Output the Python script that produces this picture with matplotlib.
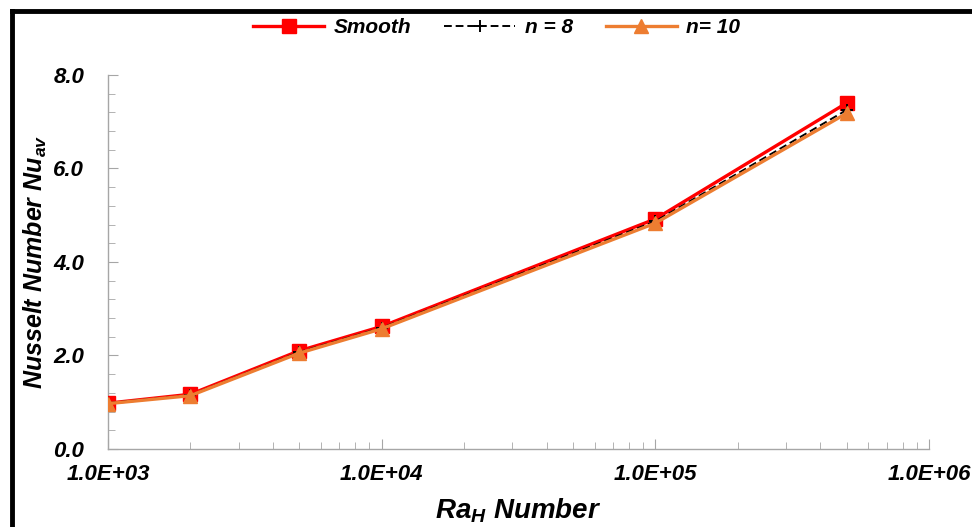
import matplotlib
matplotlib.use("Agg")
import matplotlib.pyplot as plt
import matplotlib.ticker as mtick
from matplotlib.lines import Line2D

plt.rcParams['font.family'] = ['Liberation Sans', 'DejaVu Sans']
plt.rcParams['mathtext.fontset'] = 'custom'
plt.rcParams['mathtext.it'] = 'Liberation Sans:italic:bold'
plt.rcParams['mathtext.rm'] = 'Liberation Sans:italic:bold'

ra = [1e3, 2e3, 5e3, 1e4, 1e5, 5e5]
nu_smooth = [0.98, 1.17, 2.10, 2.62, 4.92, 7.40]
nu_n8 = [0.98, 1.15, 2.07, 2.59, 4.87, 7.25]
nu_n10 = [0.97, 1.14, 2.05, 2.57, 4.83, 7.18]

fig = plt.figure(figsize=(9.72, 5.27), dpi=100)
ax = fig.add_axes([0.111, 0.148, 0.845, 0.71])

ax.plot(ra, nu_smooth, color='#FF0000', lw=2.4, marker='s', ms=10, label='Smooth', zorder=3)
ax.plot(ra, nu_n8, color='black', lw=1.4, ls=(0, (4, 2)), marker='+', ms=8, mew=1.4, label='n = 8', zorder=4)
ax.plot(ra, nu_n10, color='#ED7D31', lw=2.4, marker='^', ms=10, label='n= 10', zorder=5)

ax.set_xscale('log')
ax.set_xlim(1e3, 1e6)
ax.set_ylim(0, 8)
ax.yaxis.set_major_locator(mtick.MultipleLocator(2))
ax.yaxis.set_minor_locator(mtick.MultipleLocator(0.4))
ax.xaxis.set_major_formatter(mtick.FuncFormatter(lambda v, p: f'{v:.1E}'))
ax.yaxis.set_major_formatter(mtick.FuncFormatter(lambda v, p: f'{v:.1f}'))

for s in ['top', 'right']:
    ax.spines[s].set_visible(False)
for s in ['left', 'bottom']:
    ax.spines[s].set_color('#A6A6A6')
    ax.spines[s].set_linewidth(1.0)

ax.tick_params(which='both', direction='in', color='#A6A6A6')
ax.tick_params(which='major', length=7, labelsize=16)
ax.tick_params(axis='x', which='major', pad=11)
ax.tick_params(axis='y', which='major', pad=17)
ax.tick_params(which='minor', length=5)
for lab in ax.get_xticklabels() + ax.get_yticklabels():
    lab.set_fontweight('bold')
    lab.set_fontstyle('italic')

ax.set_xlabel('Ra$_H$ Number', fontsize=20, fontweight='bold', fontstyle='italic', labelpad=8)
ax.set_ylabel('Nusselt Number Nu$_{av}$', fontsize=18, fontweight='bold', fontstyle='italic', labelpad=3)

leg = fig.legend(loc='center', bbox_to_anchor=(0.511, 0.948), ncol=3, frameon=False,
                 handlelength=3.4, columnspacing=1.6, handletextpad=0.45,
                 prop={'size': 15, 'weight': 'bold', 'style': 'italic'})

# outer frame (cropped border)
fig.add_artist(Line2D([0.012, 1.0], [0.979, 0.979], transform=fig.transFigure, color='black', lw=3.5))
fig.add_artist(Line2D([0.012, 0.012], [0.0, 0.979], transform=fig.transFigure, color='black', lw=3.5))

fig.savefig('out.png', dpi=100)
